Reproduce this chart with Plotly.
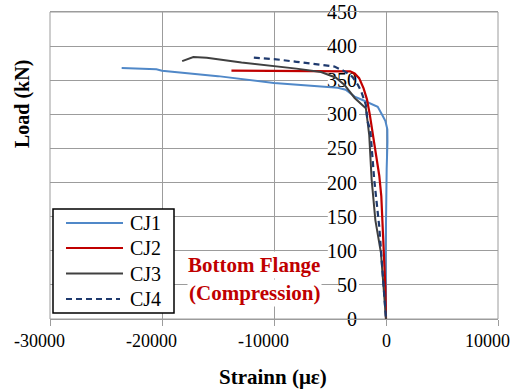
import plotly.graph_objects as go

# ---------------- data ----------------
series_names = ["CJ1", "CJ2", "CJ3", "CJ4"]

cj1_strain = [-23600, -21000, -20500, -20000, -15000, -10000, -7000, -5800, -4300, -3600,
              -2800, -2100, -1400, -740, -300, -50, 120, 130, 60, 20, -30, 0]
cj1_load = [368, 367, 366, 364, 356, 346, 342, 340, 339, 336,
            326, 321, 316, 311, 298, 290, 278, 260, 220, 160, 100, 0]

cj2_strain = [-13800, -10000, -6000, -4300, -3200, -2800, -2400, -2000, -1700, -1450,
              -1150, -900, -600, -420, -320, -160, -60, 0]
cj2_load = [364, 364, 364, 364, 363, 360, 353, 338, 322, 300,
            270, 240, 210, 180, 145, 97, 47, 0]

cj3_strain = [-18200, -17600, -17200, -16000, -12900, -8000, -5800, -4500, -3700, -2800,
              -1800, -1650, -1500, -1280, -950, -450, -200, 0]
cj3_load = [378, 382, 384, 383, 376, 367, 362, 354, 343, 324,
            309, 290, 270, 204, 145, 97, 47, 0]

cj4_strain = [-11800, -10000, -8000, -5800, -4600, -3700, -3000, -2500, -2200, -1800,
              -1650, -1400, -1050, -600, -450, -200, 0]
cj4_load = [383, 381, 377, 372, 370, 363, 355, 343, 333, 314,
            290, 277, 204, 135, 97, 47, 0]

x_ticks = [-30000, -20000, -10000, 0, 10000]
x_tick_labels = ["-30000", "-20000", "-10000", "0", "10000"]
y_ticks = [0, 50, 100, 150, 200, 250, 300, 350, 400, 450]
y_tick_labels = [str(v) for v in y_ticks]

x_title = "Strainn (με)"
y_title = "Load (kN)"
note_lines = ["Bottom Flange", "(Compression)"]

# ---------------- styles ----------------
SERIF = "Liberation Serif"
GRID = "#9c9c9c"
colors = ["#5088c8", "#c00000", "#404040", "#1f3a6e"]
widths = [2, 2.2, 2, 2.2]
dashes = ["solid", "solid", "solid", "6px,4px"]

xs_all = [cj1_strain, cj2_strain, cj3_strain, cj4_strain]
ys_all = [cj1_load, cj2_load, cj3_load, cj4_load]

W, H = 511, 391
L, R, T, B = 50, 13, 12, 72
pw, ph = W - L - R, H - T - B


def px_x(p):
    return (p - L) / pw


def px_y(p):
    return (H - B - p) / ph


fig = go.Figure()
for name, xs, ys, c, w, d in zip(series_names, xs_all, ys_all, colors, widths, dashes):
    fig.add_trace(go.Scatter(x=xs, y=ys, mode="lines", name=name,
                             line=dict(color=c, width=w, dash=d),
                             showlegend=False))

shapes = []
annotations = []

# white boxes behind y tick labels (hide grid lines, stay under curves)
xr = [-30000, 10000]
sx = (xr[1] - xr[0]) / pw
for v, lab in zip(y_ticks, y_tick_labels):
    if v == 0:
        continue
    right = -27 * sx
    left = right - len(lab) * 10.4 * sx
    shapes.append(dict(type="rect", xref="x", yref="y", x0=left, x1=right,
                       y0=v - 9.5, y1=v + 9.5, fillcolor="white",
                       line=dict(width=0), layer="between"))

# manual legend
leg_box = dict(x0=53, x1=174, y0=209, y1=313)
shapes.append(dict(type="rect", xref="paper", yref="paper",
                   x0=px_x(leg_box["x0"]), x1=px_x(leg_box["x1"]),
                   y0=px_y(leg_box["y1"]), y1=px_y(leg_box["y0"]),
                   fillcolor="white", line=dict(color="black", width=1.5),
                   layer="above"))
row_y = [223, 248, 273.5, 299]
for i, name in enumerate(series_names):
    yy = px_y(row_y[i])
    x_end = 123 if dashes[i] == "solid" else 120
    shapes.append(dict(type="line", xref="paper", yref="paper",
                       x0=px_x(66), x1=px_x(x_end), y0=yy, y1=yy,
                       line=dict(color=colors[i], width=widths[i],
                                 dash=dashes[i]), layer="above"))
    annotations.append(dict(x=px_x(128), y=yy, xref="paper", yref="paper",
                            text=name, showarrow=False, xanchor="left",
                            yanchor="middle",
                            font=dict(family=SERIF, size=20, color="black")))

# x tick labels
for v, lab in zip(x_ticks, x_tick_labels):
    annotations.append(dict(x=v, xref="x", y=px_y(341), yref="paper",
                            text=lab, showarrow=False, xanchor="center",
                            yanchor="middle", xshift=0 if v == 0 else -11,
                            font=dict(family=SERIF, size=18, color="black")))

# axis titles
annotations.append(dict(x=px_x(273), y=px_y(377), xref="paper", yref="paper",
                        text="<b>" + x_title + "</b>", showarrow=False,
                        xanchor="center", yanchor="middle",
                        font=dict(family=SERIF, size=21, color="black")))
annotations.append(dict(x=px_x(22), y=px_y(104), xref="paper", yref="paper",
                        text="<b>" + y_title + "</b>", showarrow=False,
                        textangle=-90, xanchor="center", yanchor="middle",
                        font=dict(family=SERIF, size=20, color="black")))

# note
note_y = [265, 293]
for txt, yy in zip(note_lines, note_y):
    annotations.append(dict(x=px_x(254), y=px_y(yy), xref="paper", yref="paper",
                            text="<b>" + txt + "</b>", showarrow=False,
                            xanchor="center", yanchor="middle",
                            bgcolor="white", borderpad=1,
                            font=dict(family=SERIF, size=21, color="#c00000")))

fig.update_layout(
    width=W, height=H,
    margin=dict(l=L, r=R, t=T, b=B, pad=0, autoexpand=False),
    paper_bgcolor="white", plot_bgcolor="white",
    font=dict(family=SERIF, size=18, color="black"),
    showlegend=False,
    xaxis=dict(range=xr, tickvals=x_ticks, showticklabels=False,
               ticks="outside", ticklen=6, tickcolor=GRID, tickwidth=1,
               showgrid=True, gridcolor=GRID, gridwidth=1,
               showline=True, linecolor=GRID, linewidth=1, mirror=True,
               zeroline=False, fixedrange=True, automargin=False),
    yaxis=dict(range=[0, 450], tickvals=y_ticks, ticktext=y_tick_labels,
               anchor="free", position=0.75, side="left",
               ticks="", ticklabelstandoff=25,
               tickfont=dict(family=SERIF, size=20, color="black"),
               showgrid=True, gridcolor=GRID, gridwidth=1,
               showline=True, linecolor=GRID, linewidth=1,
               zeroline=False, layer="below traces", fixedrange=True,
               automargin=False),
    shapes=shapes,
    annotations=annotations,
)

fig.add_shape(type="rect", xref="paper", yref="paper", x0=0, x1=1, y0=0, y1=1,
              line=dict(color=GRID, width=1), layer="between")

fig.write_html("out.html", config=dict(displayModeBar=False),
               post_script="document.body.style.margin='0';"
                           "document.body.style.padding='0';")
